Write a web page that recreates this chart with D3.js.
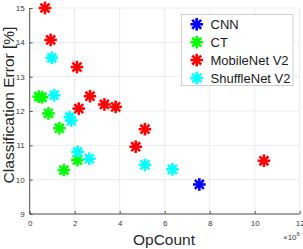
<!DOCTYPE html>
<html><head><meta charset="utf-8">
<script src="https://cdn.jsdelivr.net/npm/d3@7"></script>
<style>body{margin:0;background:#fff}svg{display:block}text{font-family:"Liberation Sans",Arial,sans-serif}</style>
</head><body>
<svg id="c" width="303" height="249"></svg>
<script>
const seriesNames = ["CNN","CT","MobileNet V2","ShuffleNet V2"];
const seriesColors = ["#0000ff","#00ff00","#ff0000","#00ffff"];
const cnnX = [7.54], cnnY = [9.86];
const ctX = [0.40,0.55,0.83,1.32,2.12,1.52];
const ctY = [12.42,12.40,11.93,11.50,10.57,10.28];
const mobX = [0.68,0.93,2.10,2.68,2.18,3.32,3.82,5.12,4.71,10.41];
const mobY = [15.00,14.07,13.28,12.43,12.07,12.19,12.12,11.47,10.96,10.55];
const shX = [0.98,1.09,1.78,1.85,2.13,2.65,5.12,6.34];
const shY = [13.55,12.46,11.82,11.72,10.81,10.61,10.43,10.30];
const xTicks = [0,2,4,6,8,10,12];
const yTicks = [9,10,11,12,13,14,15];

const svg = d3.select("#c");
const x = d3.scaleLinear().domain([0,12]).range([29.7,299.7]);
const y = d3.scaleLinear().domain([9,15]).range([214,8]);

// grid
svg.append("g").selectAll("line").data(xTicks).join("line")
  .attr("x1",d=>x(d)).attr("x2",d=>x(d)).attr("y1",y(9)).attr("y2",y(15))
  .attr("stroke","#ebebeb").attr("stroke-width",1);
svg.append("g").selectAll("line").data(yTicks).join("line")
  .attr("x1",x(0)).attr("x2",x(12)).attr("y1",d=>y(d)).attr("y2",d=>y(d))
  .attr("stroke","#ebebeb").attr("stroke-width",1);

// axes
const xa = svg.append("g").attr("transform",`translate(0,${y(9)})`)
  .call(d3.axisBottom(x).tickValues(xTicks).tickSize(-3).tickPadding(6).tickFormat(d3.format("d")));
const ya = svg.append("g").attr("transform",`translate(${x(0)},0)`)
  .call(d3.axisLeft(y).tickValues(yTicks).tickSize(-3).tickPadding(5).tickFormat(d3.format("d")));
[xa,ya].forEach(a=>{
  a.select(".domain").attr("stroke","#555").attr("stroke-width",1);
  a.selectAll(".tick line").attr("stroke","#555");
  a.selectAll(".tick text").attr("fill","#3a3a3a").style("font-size","8px");
});
xa.select(".domain").attr("d",`M${x(0)},0H${x(12)}`);
ya.select(".domain").attr("d",`M0,${y(9)}V${y(15)}`);

// markers
function star(g, cx, cy, color, r){
  const s = g.append("g").attr("transform",`translate(${cx},${cy})`);
  for(let i=0;i<4;i++){
    const a = i*Math.PI/4;
    s.append("line").attr("x1",-r*Math.cos(a)).attr("y1",-r*Math.sin(a))
     .attr("x2",r*Math.cos(a)).attr("y2",r*Math.sin(a))
     .attr("stroke",color).attr("stroke-width",2.6).attr("stroke-linecap","butt");
  }
  s.append("circle").attr("r",r*0.45).attr("fill",color);
}
const sets = [[cnnX,cnnY],[ctX,ctY],[mobX,mobY],[shX,shY]];
const pg = svg.append("g");
sets.forEach(([xs,ys],k)=>{
  xs.forEach((v,i)=>star(pg,x(v),y(ys[i]),seriesColors[k],6.3));
});

// legend
const lg = svg.append("g");
lg.append("rect").attr("x",181.5).attr("y",14.5).attr("width",111.5).attr("height",71)
  .attr("fill","#fff").attr("stroke","#d0d0d0").attr("stroke-width",1);
seriesNames.forEach((n,i)=>{
  const yy = 24.3 + i*17.9;
  star(lg,196.7,yy,seriesColors[i],6.3);
  lg.append("text").attr("x",210.5).attr("y",yy+4.6).text(n)
    .style("font-size","13px").attr("fill","#1a1a1a");
});

// labels
svg.append("text").attr("x",164).attr("y",245).attr("text-anchor","middle")
  .style("font-size","15.5px").attr("fill","#262626").text("OpCount");
svg.append("text").attr("transform",`translate(14,105) rotate(-90)`).attr("text-anchor","middle")
  .style("font-size","15.5px").attr("fill","#262626").text("Classification Error [%]");
const ex = svg.append("text").attr("x",283).attr("y",240).style("font-size","8px").attr("fill","#3a3a3a");
ex.append("tspan").text("×10");
ex.append("tspan").attr("dy",-4).style("font-size","6px").text("6");
</script>
</body></html>
